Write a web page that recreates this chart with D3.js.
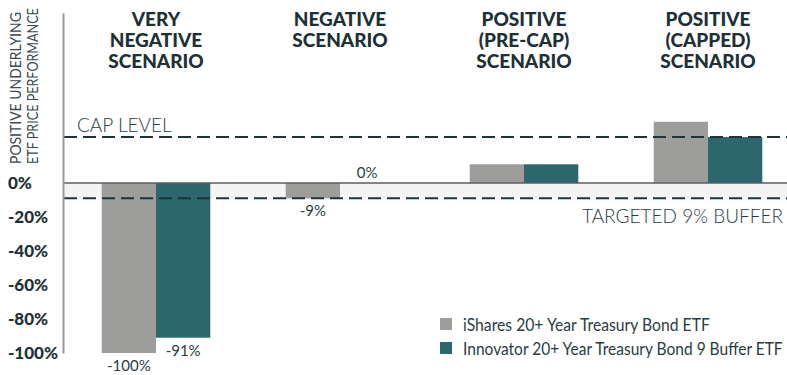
<!DOCTYPE html>
<html>
<head>
<meta charset="utf-8">
<script src="https://cdn.jsdelivr.net/npm/d3@7"></script>
<style>
  html, body { margin: 0; padding: 0; background: #fff; }
  svg { display: block; font-family: Lato, "Open Sans", sans-serif; }
</style>
</head>
<body>
<svg id="chart" width="787" height="375"></svg>
<script>
// Scenario titles (one entry per line of the header)
const scenarios = [
  ["VERY", "NEGATIVE", "SCENARIO"],
  ["NEGATIVE", "SCENARIO"],
  ["POSITIVE", "(PRE-CAP)", "SCENARIO"],
  ["POSITIVE", "(CAPPED)", "SCENARIO"]
];
const seriesNames = ["iShares 20+ Year Treasury Bond ETF", "Innovator 20+ Year Treasury Bond 9 Buffer ETF"];
const ishares   = [-100, -9, 11, 36];
const innovator = [-91, 0, 11, 27];
const capLevel = 27;
const bufferLevel = -9;
const tickValues = [0, -20, -40, -60, -80, -100];
const axisTitle = ["POSITIVE UNDERLYING", "ETF PRICE PERFORMANCE"];

const colors = ["#9d9d9c", "#2b676c"];
const dark = "#1e3036";
const textColor = "#2a3c42";

const svg = d3.select("#chart");
const W = 787;
const axisX = 63;

const y = d3.scaleLinear().domain([-100, 100]).range([353, 13]);
const x0 = d3.scaleBand().domain(d3.range(scenarios.length))
  .range([axisX + 1, 800]).paddingInner(0.41).paddingOuter(0.205);
const x1 = d3.scaleBand().domain([0, 1]).range([0, x0.bandwidth()]);

const series = [ishares, innovator];

// Squeeze a text horizontally (in its own frame) to a given run length
function condense(sel, width) {
  const n = sel.node().getComputedTextLength();
  return Math.min(1, width / n);
}

// Buffer zone shading between 0% and the buffer level
svg.append("rect")
  .attr("x", axisX).attr("width", W - axisX)
  .attr("y", y(0)).attr("height", y(bufferLevel) - y(0))
  .attr("fill", "#f4f4f4");

// Bars
const groups = svg.append("g").selectAll("g")
  .data(scenarios.map((s, i) => i))
  .join("g")
  .attr("transform", i => `translate(${x0(i)},0)`);

groups.selectAll("rect")
  .data(i => series.map((s, k) => ({ k, v: s[i] })))
  .join("rect")
  .attr("x", d => x1(d.k))
  .attr("width", x1.bandwidth())
  .attr("y", d => y(Math.max(0, d.v)))
  .attr("height", d => Math.abs(y(d.v) - y(0)))
  .attr("fill", d => colors[d.k]);

// Zero line
svg.append("line")
  .attr("x1", axisX).attr("x2", W)
  .attr("y1", y(0)).attr("y2", y(0))
  .attr("stroke", "#5e5e5e").attr("stroke-width", 1.5);

// Cap and buffer dashed lines
[capLevel, bufferLevel].forEach(v => {
  svg.append("line")
    .attr("x1", axisX + 1).attr("x2", W)
    .attr("y1", y(v)).attr("y2", y(v))
    .attr("stroke", "#1f343a").attr("stroke-width", 2)
    .attr("stroke-dasharray", "13,6");
});

svg.append("text")
  .attr("x", 77).attr("y", y(capLevel) - 5)
  .attr("font-size", 19).attr("font-weight", 300).attr("fill", textColor)
  .text("CAP LEVEL");
svg.append("text")
  .attr("x", 783).attr("y", y(bufferLevel) + 25)
  .attr("text-anchor", "end")
  .attr("font-size", 19).attr("font-weight", 300).attr("fill", textColor)
  .text("TARGETED 9% BUFFER");

// Value labels for the non-positive bars
groups.selectAll("text.val")
  .data(i => series.map((s, k) => ({ k, v: s[i] })).filter(d => d.v <= 0))
  .join("text")
  .attr("class", "val")
  .attr("x", d => x1(d.k) + x1.bandwidth() / 2)
  .attr("y", d => d.v === 0 ? y(0) - 5 : y(d.v) + 18)
  .attr("text-anchor", "middle")
  .attr("font-size", 15).attr("fill", textColor)
  .text(d => String(d.v) + "%");

// Y axis
const yAxis = d3.axisLeft(y).tickValues(tickValues).tickSize(0).tickSizeOuter(0)
  .tickFormat(d => String(d) + "%");
const ag = svg.append("g").attr("transform", `translate(${axisX},0)`).call(yAxis);
ag.select(".domain").attr("stroke", "#9a9a9a").attr("stroke-width", 2);
ag.selectAll("text")
  .attr("x", 8 - axisX).attr("text-anchor", "start")
  .attr("font-family", "Lato, sans-serif")
  .attr("font-size", 17).attr("font-weight", 900).attr("fill", dark);

// Rotated axis title, condensed along its run
axisTitle.forEach((t, i) => {
  const txt = svg.append("text")
    .attr("font-size", 16).attr("font-weight", 400).attr("fill", "#3a4a50")
    .text(t);
  const s = condense(txt, i === 0 ? 152 : 156);
  txt.attr("transform", `translate(${21 + i * 17},164) rotate(-90) scale(${s},1)`);
});

// Scenario headers
groups.each(function(i) {
  const t = d3.select(this).append("text")
    .attr("text-anchor", "middle")
    .attr("font-size", 19).attr("font-weight", 900).attr("fill", dark);
  scenarios[i].forEach((line, j) => {
    t.append("tspan").attr("x", x0.bandwidth() / 2).attr("y", 26 + j * 21).text(line);
  });
});

// Legend
const legend = svg.append("g").attr("transform", "translate(440,318)");
seriesNames.forEach((name, k) => {
  const row = legend.append("g").attr("transform", `translate(0,${k * 24})`);
  row.append("rect").attr("width", 12).attr("height", 12).attr("fill", colors[k]);
  const txt = row.append("text")
    .attr("font-size", 17).attr("fill", textColor)
    .text(name);
  const s = condense(txt, k === 0 ? 247 : 320);
  txt.attr("transform", `translate(23,12.5) scale(${s},1)`);
});
</script>
</body>
</html>
